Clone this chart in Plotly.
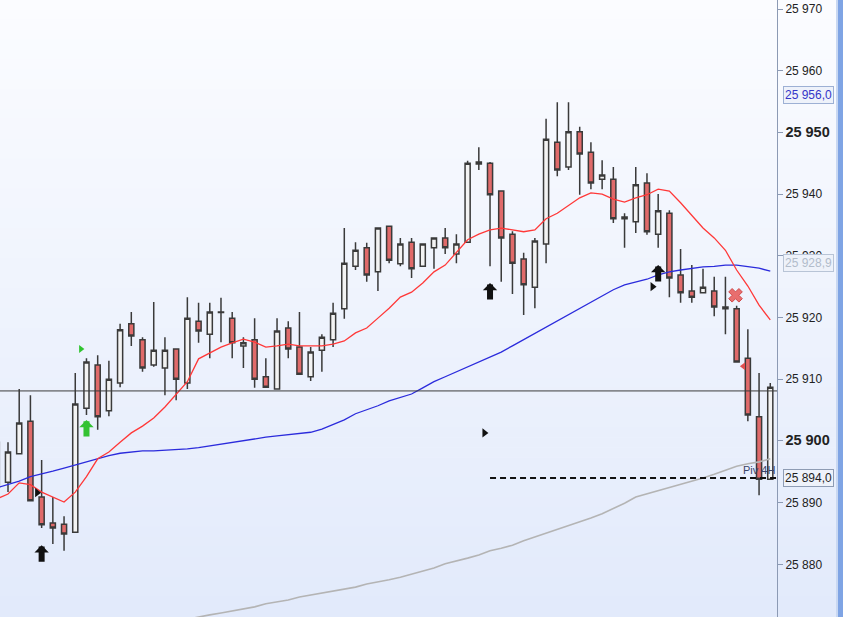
import plotly.graph_objects as go

# ---------------- data ----------------
idx = list(range(70))
opens = [25892.5, 25893.3, 25897.9, 25903.2, 25890.9, 25886.7, 25886.5, 25885.2, 25905.3, 25912.3,
         25904.9, 25909.4, 25919.0, 25916.4, 25912.3, 25911.8, 25914.9, 25909.4, 25919.4, 25917.3,
         25920.8, 25919.9, 25915.4, 25916.4, 25910.4, 25908.4, 25918.3, 25915.2, 25910.4, 25914.7,
         25916.4, 25921.4, 25928.3, 25931.3, 25927.4, 25934.8, 25928.7, 25932.2, 25928.3, 25931.3,
         25932.9, 25930.3, 25932.2, 25945.2, 25945.0, 25940.5, 25933.5, 25929.5, 25924.9, 25931.9,
         25948.4, 25944.4, 25950.1, 25946.8, 25942.4, 25942.4, 25936.3, 25935.5, 25941.8, 25933.5,
         25936.9, 25926.9, 25924.3, 25924.0, 25924.3, 25921.4, 25921.4, 25913.4, 25903.9, 25893.8]
highs = [25900.8, 25899.8, 25908.4, 25907.4, 25896.9, 25890.9, 25887.8, 25911.0, 25913.4, 25913.9,
         25913.0, 25919.0, 25920.9, 25916.8, 25922.5, 25916.8, 25914.9, 25923.3, 25922.4, 25922.4,
         25923.2, 25920.9, 25916.8, 25919.9, 25913.4, 25919.9, 25919.4, 25920.9, 25915.2, 25917.3,
         25922.4, 25934.5, 25932.2, 25932.1, 25934.5, 25934.8, 25932.9, 25932.9, 25931.9, 25932.9,
         25934.5, 25933.5, 25945.4, 25947.6, 25945.2, 25940.5, 25934.0, 25930.5, 25932.9, 25952.2,
         25954.9, 25954.9, 25950.9, 25948.4, 25945.5, 25944.4, 25936.9, 25944.4, 25943.4, 25940.0,
         25937.4, 25931.1, 25928.5, 25927.9, 25926.6, 25926.6, 25921.9, 25918.1, 25911.0, 25909.4]
lows = [25891.5, 25891.7, 25897.9, 25890.3, 25885.9, 25883.3, 25882.2, 25885.2, 25904.2, 25901.8,
        25904.0, 25908.7, 25915.4, 25911.2, 25912.0, 25907.4, 25906.6, 25908.4, 25915.9, 25913.4,
        25916.0, 25913.4, 25911.8, 25908.6, 25908.7, 25908.4, 25913.4, 25910.8, 25909.7, 25911.2,
        25915.2, 25919.8, 25927.7, 25925.8, 25924.3, 25928.8, 25928.3, 25926.4, 25928.3, 25927.9,
        25930.3, 25928.8, 25932.2, 25943.9, 25928.3, 25925.8, 25923.8, 25920.4, 25921.5, 25928.8,
        25942.9, 25943.9, 25939.9, 25940.8, 25940.8, 25935.3, 25931.3, 25933.7, 25933.4, 25931.3,
        25923.3, 25922.4, 25922.4, 25924.0, 25920.2, 25917.3, 25912.8, 25903.2, 25891.2, 25893.8]
closes = [25899.8, 25898.2, 25902.9, 25890.3, 25886.4, 25885.9, 25884.9, 25906.0, 25912.8, 25903.9,
          25910.0, 25918.0, 25917.0, 25911.8, 25914.7, 25914.7, 25910.0, 25919.9, 25917.8, 25920.9,
          25920.9, 25915.9, 25915.9, 25910.0, 25908.7, 25917.8, 25914.9, 25910.8, 25914.4, 25916.8,
          25920.7, 25928.8, 25930.9, 25926.9, 25934.5, 25929.3, 25931.9, 25927.9, 25931.9, 25932.9,
          25931.3, 25931.9, 25945.0, 25944.9, 25939.9, 25932.9, 25928.8, 25925.3, 25932.4, 25948.9,
          25943.9, 25950.1, 25946.5, 25941.8, 25943.1, 25936.0, 25936.0, 25941.5, 25933.9, 25937.3,
          25926.4, 25924.0, 25923.3, 25924.9, 25921.7, 25921.7, 25912.8, 25904.2, 25893.8, 25908.7]

ma_red = [25890.6, 25891.4, 25893.2, 25892.9, 25891.7, 25890.9, 25890.1, 25891.7, 25894.2, 25897.1,
          25898.2, 25899.8, 25901.3, 25902.4, 25903.7, 25905.5, 25907.6, 25909.6, 25913.3, 25914.3,
          25915.2, 25915.9, 25916.5, 25916.0, 25915.2, 25915.4, 25915.7, 25915.4, 25915.4, 25915.4,
          25915.7, 25916.2, 25917.5, 25918.3, 25919.9, 25921.5, 25923.3, 25924.1, 25925.6, 25927.4,
          25928.5, 25930.5, 25932.6, 25933.5, 25934.2, 25934.5, 25934.2, 25933.9, 25934.2, 25936.0,
          25936.9, 25938.2, 25939.4, 25940.2, 25940.0, 25939.2, 25938.7, 25939.4, 25939.9, 25940.8,
          25940.5, 25938.6, 25936.6, 25934.5, 25932.9, 25930.9, 25927.7, 25925.1, 25922.0, 25919.6]
ma_blue = [25892.4, 25892.9, 25893.5, 25894.2, 25894.6, 25895.1, 25895.6, 25896.1, 25896.7, 25897.2,
           25897.6, 25898.0, 25898.2, 25898.4, 25898.4, 25898.5, 25898.5, 25898.7, 25898.9, 25899.2,
           25899.5, 25899.8, 25900.1, 25900.3, 25900.6, 25900.8, 25901.0, 25901.1, 25901.4, 25901.9,
           25902.6, 25903.4, 25904.4, 25905.0, 25905.7, 25906.5, 25907.0, 25907.6, 25908.6, 25909.6,
           25910.4, 25911.2, 25912.1, 25912.8, 25913.6, 25914.4, 25915.4, 25916.4, 25917.5, 25918.5,
           25919.4, 25920.4, 25921.4, 25922.5, 25923.5, 25924.5, 25925.3, 25925.8, 25926.2, 25926.9,
           25927.4, 25927.7, 25928.0, 25928.2, 25928.3, 25928.5, 25928.5, 25928.3, 25928.0, 25927.5]
ma_gray = [None] * 17 + [
           25871.1, 25871.5, 25871.8,
           25872.1, 25872.4, 25872.8, 25873.1, 25873.6, 25873.9, 25874.2, 25874.7, 25875.0, 25875.4,
           25875.7, 25876.0, 25876.3, 25876.8, 25877.1, 25877.5, 25877.9, 25878.4, 25878.9, 25879.4,
           25880.1, 25880.5, 25881.0, 25881.5, 25882.2, 25882.6, 25883.1, 25883.8, 25884.4, 25885.1,
           25885.7, 25886.2, 25886.9, 25887.5, 25888.2, 25889.0, 25889.9, 25890.9, 25891.4, 25891.9,
           25892.4, 25892.9, 25893.5, 25894.0, 25894.6, 25895.3, 25895.9, 25896.3, 25896.6, 25897.1]

last_line = 25908.1
pivot_value = 25894.0
pivot_start = 44
pivot_label = "Piv 4H"
price_boxes = [25956.0, 25928.9, 25894.0]

up_arrow_x = [4, 44, 59]
up_arrow_y = [25883.1, 25925.6, 25928.5]
green_arrow_x = [8]
green_arrow_y = [25903.4]
green_tri_x = [7.5]
green_tri_y = [25914.9]
flag_x = [3.6, 43.5, 58.5]
flag_y = [25891.6, 25901.3, 25925.0]
cross_x = [65.9]
cross_y = [25923.6]
red_tri_x = [66.6]
red_tri_y = [25912.1]

tick_vals = [25880, 25890, 25900, 25910, 25920, 25930, 25940, 25950, 25960, 25970]
bold_ticks = [25900, 25950]

# ---------------- figure ----------------
W, H = 843, 617
PLOT_W = 777
FONT = "Liberation Sans, Arial, sans-serif"

fig = go.Figure()

fig.add_trace(go.Candlestick(
    x=idx, open=opens, high=highs, low=lows, close=closes,
    increasing=dict(fillcolor="#f3f3f3", line=dict(color="#3a3a3a", width=1.5)),
    decreasing=dict(fillcolor="#e06a6a", line=dict(color="#3a3a3a", width=1.5)),
    whiskerwidth=0, showlegend=False, hoverinfo="skip"))

fig.add_trace(go.Scatter(x=idx, y=ma_gray, mode="lines",
                         line=dict(color="#b4b4b4", width=1.6), showlegend=False, hoverinfo="skip"))
fig.add_trace(go.Scatter(x=idx, y=ma_blue, mode="lines",
                         line=dict(color="#2b2bdc", width=1.3), showlegend=False, hoverinfo="skip"))
fig.add_trace(go.Scatter(x=idx, y=ma_red, mode="lines",
                         line=dict(color="#ff3838", width=1.3), showlegend=False, hoverinfo="skip"))

# pivot dashed line
fig.add_trace(go.Scatter(x=[pivot_start, idx[-1] + 1], y=[pivot_value, pivot_value], mode="lines",
                         line=dict(color="#111111", width=2, dash="6px,4px"),
                         showlegend=False, hoverinfo="skip"))

# small markers
fig.add_trace(go.Scatter(x=flag_x, y=flag_y, mode="markers",
                         marker=dict(symbol="triangle-right", size=8, color="#111111"),
                         showlegend=False, hoverinfo="skip"))
fig.add_trace(go.Scatter(x=green_tri_x, y=green_tri_y, mode="markers",
                         marker=dict(symbol="triangle-right", size=7, color="#2fc42f"),
                         showlegend=False, hoverinfo="skip"))
fig.add_trace(go.Scatter(x=cross_x, y=cross_y, mode="markers",
                         marker=dict(symbol="x", size=12, color="#e86e6e",
                                     line=dict(color="#d04a4a", width=1)),
                         showlegend=False, hoverinfo="skip"))
fig.add_trace(go.Scatter(x=red_tri_x, y=red_tri_y, mode="markers",
                         marker=dict(symbol="triangle-left", size=7, color="#e05050"),
                         showlegend=False, hoverinfo="skip"))

# block arrows
for xa, ya in zip(up_arrow_x, up_arrow_y):
    fig.add_annotation(x=xa, y=ya, text="", showarrow=True, ax=0, ay=18,
                       arrowhead=1, arrowsize=0.4, arrowwidth=6, arrowcolor="#111111", standoff=0)
for xa, ya in zip(green_arrow_x, green_arrow_y):
    fig.add_annotation(x=xa, y=ya, text="", showarrow=True, ax=0, ay=18,
                       arrowhead=1, arrowsize=0.4, arrowwidth=6, arrowcolor="#33c233", standoff=0)

# pivot label
fig.add_annotation(x=1, xref="paper", y=pivot_value, yref="y", yshift=8, text=pivot_label,
                   showarrow=False, xanchor="right", yanchor="middle",
                   font=dict(family=FONT, size=11, color="#3a4468"))

# price boxes
box_styles = [("#3535c8", "#9db0d4"), ("#b2bccb", "#b8c4d6"), ("#1e1e1e", "#8e9cb4")]
for val, (tc, bc) in zip(price_boxes, box_styles):
    txt = f"{val:,.1f}".replace(",", " ").replace(".", ",")
    fig.add_annotation(x=783 / PLOT_W, xref="paper", y=val, yref="y", text=txt,
                       showarrow=False, xanchor="left", yanchor="middle",
                       font=dict(family=FONT, size=12, color=tc),
                       bgcolor="#eef2fa", bordercolor=bc, borderwidth=1, borderpad=1)

# background gradient + right strip + last price line
shapes = []
n = 62
top = (251, 252, 255)
bot = (226, 234, 251)
for k in range(n):
    t = k / (n - 1)
    c = tuple(round(top[j] + (bot[j] - top[j]) * t) for j in range(3))
    shapes.append(dict(type="rect", xref="paper", yref="paper", x0=0, x1=W / PLOT_W,
                       y0=1 - (k + 1) / n, y1=1 - k / n + 0.001,
                       fillcolor=f"rgb{c}", line=dict(width=0), layer="below"))
shapes.append(dict(type="rect", xref="paper", yref="paper", x0=836 / PLOT_W, x1=W / PLOT_W,
                   y0=0, y1=1, fillcolor="#c9d8f2", line=dict(width=0), layer="below"))
shapes.append(dict(type="rect", xref="paper", yref="paper", x0=838 / PLOT_W, x1=W / PLOT_W,
                   y0=0, y1=1, fillcolor="#7fa4e4", line=dict(width=0), layer="below"))
shapes.append(dict(type="line", xref="paper", yref="y", x0=0, x1=1, y0=last_line, y1=last_line,
                   line=dict(color="#3c3c3c", width=1), layer="above"))

tick_text = []
for v in tick_vals:
    s = f"{v:,}".replace(",", " ")
    if v in bold_ticks:
        s = f"<span style='font-size:14.5px'><b>{s}</b></span>"
    tick_text.append(s)

fig.update_layout(
    width=W, height=H, autosize=False,
    margin=dict(l=0, r=W - PLOT_W, t=0, b=0, pad=0),
    paper_bgcolor="white", plot_bgcolor="rgba(0,0,0,0)",
    shapes=shapes, boxgap=0.35, showlegend=False,
    xaxis=dict(range=[0.2863, 69.60], visible=False, rangeslider=dict(visible=False),
               showgrid=False, zeroline=False),
    yaxis=dict(range=[25871.46, 25971.46], side="right", showgrid=False, zeroline=False,
               showline=True, linecolor="#8c9ab4", linewidth=1,
               ticks="outside", ticklen=5, tickcolor="#8c9ab4",
               tickvals=tick_vals, ticktext=tick_text, automargin=False,
               tickfont=dict(family=FONT, size=12, color="#222222")),
)

fig.write_html("out.html", config={"displayModeBar": False},
               post_script="document.body.style.margin='0';document.body.style.overflow='hidden';")
